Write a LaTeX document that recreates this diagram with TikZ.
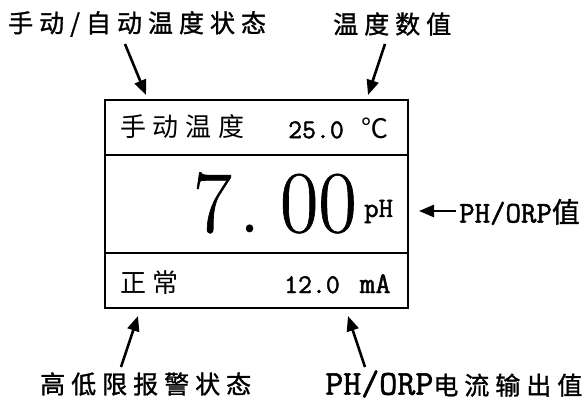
\documentclass[tikz,border=0pt]{standalone}
\usepackage{fontspec}
\newfontfamily\cjk{Noto Sans CJK SC}[LetterSpace=24,FakeBold=1.2]
\newfontfamily\cjkin{Noto Sans CJK SC}[LetterSpace=26]
\newfontfamily\monof{Latin Modern Mono}[FakeBold=1.6]
\newfontfamily\bigf{Latin Modern Roman}[FakeBold=0.8]
\usetikzlibrary{arrows.meta}
\begin{document}
\begin{tikzpicture}[x=1pt,y=-1pt,
  lbl/.style={inner sep=0pt, anchor=west, font=\cjk\fontsize{25}{25}\selectfont},
  lat/.style={inner sep=0pt, anchor=west},
  intext/.style={inner sep=0pt, anchor=west, font=\cjkin\fontsize{26}{26}\selectfont},
  pointer/.style={line width=2.6pt, -{Triangle[length=15pt,width=12pt]}},
  frame/.style={line width=1.8pt}]
\useasboundingbox (0,0) rectangle (588,403);
% display box
\draw[frame] (105,100) rectangle (408,308);
\coordinate (s1l) at (105,155); \coordinate (s1r) at (408,155);
\coordinate (s2l) at (105,253); \coordinate (s2r) at (408,253);
\draw[frame] (s1l) -- (s1r);
\draw[frame] (s2l) -- (s2r);
% top row
\node[intext] (mode) at (120,127) {手动温度};
\node[lat, font=\monof\fontsize{27}{27}\selectfont] (temp) at (288,128) {25.0\kern18pt{\cjkin\fontsize{27}{27}\selectfont ℃}};
% main value
\node[lat, anchor=base west, font=\bigf\fontsize{88}{88}\selectfont] (val) at (193,232) {\scalebox{0.95}[1]{7\kern8pt.\kern21pt00}};
\node[lat, anchor=base west, font=\monof\fontsize{28}{28}\selectfont] (unit) at (364,217) {pH};
% bottom row
\node[intext] (alarm) at (120,283) {正常};
\node[lat, anchor=base west, font=\monof\fontsize{27}{27}\selectfont] (cur) at (284,293) {12.0\kern20pt{\fontsize{30}{30}\selectfont mA}};
% labels
\node[lbl] (l1) at (8,24) {手动/自动温度状态};
\node[lbl] (l2) at (333,24) {温度数值};
\node[lat] (l3) at (459,212) {{\monof\fontsize{30}{30}\selectfont PH/ORP}{\cjk\fontsize{28}{28}\selectfont 值}};
\node[lbl] (l4) at (40,384) {高低限报警状态};
\node[lat] (l5) at (325,384) {{\monof\fontsize{35}{35}\selectfont PH/ORP}{\cjk\fontsize{25}{25}\selectfont 电流输出值}};
% pointer coordinates
\coordinate (a1s) at (125,44); \coordinate (a1e) at (146,95);
\coordinate (a2s) at (385,44); \coordinate (a2e) at (368,95);
\coordinate (a3s) at (121,367); \coordinate (a3e) at (138,316);
\coordinate (a4s) at (365,367); \coordinate (a4e) at (348,316);
\coordinate (a5s) at (456,211); \coordinate (a5e) at (419,211);
\draw[pointer] (a1s) -- (a1e);
\draw[pointer] (a2s) -- (a2e);
\draw[pointer] (a3s) -- (a3e);
\draw[pointer] (a4s) -- (a4e);
\draw[pointer] (a5s) -- (a5e);
\end{tikzpicture}
\end{document}
